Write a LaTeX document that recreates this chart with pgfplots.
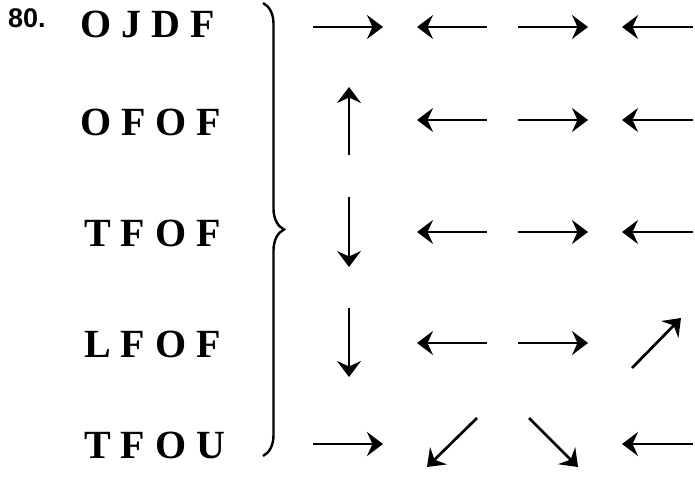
\documentclass[border=0pt]{standalone}
\usepackage{pgfplots}
\pgfplotsset{compat=1.18}
\usepackage{fontspec}
\setmainfont{Liberation Serif}
\newfontfamily\numfont{Liberation Sans}
\usetikzlibrary{arrows.meta,decorations.pathreplacing}
\pgfplotsset{arr/.style={black, line width=2.7pt, mark=none,
    -{Stealth[length=16pt,width=24pt,inset=5.5pt]}}}
\begin{document}
\begin{tikzpicture}
\begin{axis}[
  width=695pt, height=476pt, scale only axis,
  xmin=0, xmax=695, ymin=0, ymax=476, y dir=reverse,
  hide axis, clip=false,
]
% invisible frame fixing the picture size
\path (axis cs:0,0) rectangle (axis cs:695,476);
% labels
\node[anchor=base west, inner sep=0pt] at (axis cs:8,28) {\fontsize{27}{27}\selectfont\numfont\bfseries 80.};
\node[anchor=base west, font=\bfseries\fontsize{40}{40}\selectfont, inner sep=0pt] at (axis cs:80,38) {O J D F};
\node[anchor=base west, font=\bfseries\fontsize{40}{40}\selectfont, inner sep=0pt] at (axis cs:80,135) {O F O F};
\node[anchor=base west, font=\bfseries\fontsize{40}{40}\selectfont, inner sep=0pt] at (axis cs:84,246) {T F O F};
\node[anchor=base west, font=\bfseries\fontsize{40}{40}\selectfont, inner sep=0pt] at (axis cs:84,357) {L F O F};
\node[anchor=base west, font=\bfseries\fontsize{40}{40}\selectfont, inner sep=0pt] at (axis cs:84,458) {T F O U};
% brace
\draw[line width=2.4pt, decorate, decoration={brace, amplitude=21pt, aspect=0.5}] (axis cs:263,3) -- (axis cs:263,456);
% row 1
\addplot[arr] coordinates {(313,27) (383,27)};
\addplot[arr] coordinates {(487,27) (417,27)};
\addplot[arr] coordinates {(518,27) (588,27)};
\addplot[arr] coordinates {(693,27) (622,27)};
% row 2
\addplot[arr] coordinates {(349,155) (349,87)};
\addplot[arr] coordinates {(487,120) (417,120)};
\addplot[arr] coordinates {(518,120) (588,120)};
\addplot[arr] coordinates {(693,120) (622,120)};
% row 3
\addplot[arr] coordinates {(349,197) (349,267)};
\addplot[arr] coordinates {(487,232) (417,232)};
\addplot[arr] coordinates {(518,232) (588,232)};
\addplot[arr] coordinates {(693,232) (622,232)};
% row 4
\addplot[arr] coordinates {(349,308) (349,377)};
\addplot[arr] coordinates {(487,343) (417,343)};
\addplot[arr] coordinates {(518,343) (588,343)};
\addplot[arr] coordinates {(632,368) (681,318)};
% row 5
\addplot[arr] coordinates {(313,444) (383,444)};
\addplot[arr] coordinates {(477,418) (427,467)};
\addplot[arr] coordinates {(529,418) (578,467)};
\addplot[arr] coordinates {(693,444) (622,444)};
\end{axis}
\end{tikzpicture}
\end{document}
